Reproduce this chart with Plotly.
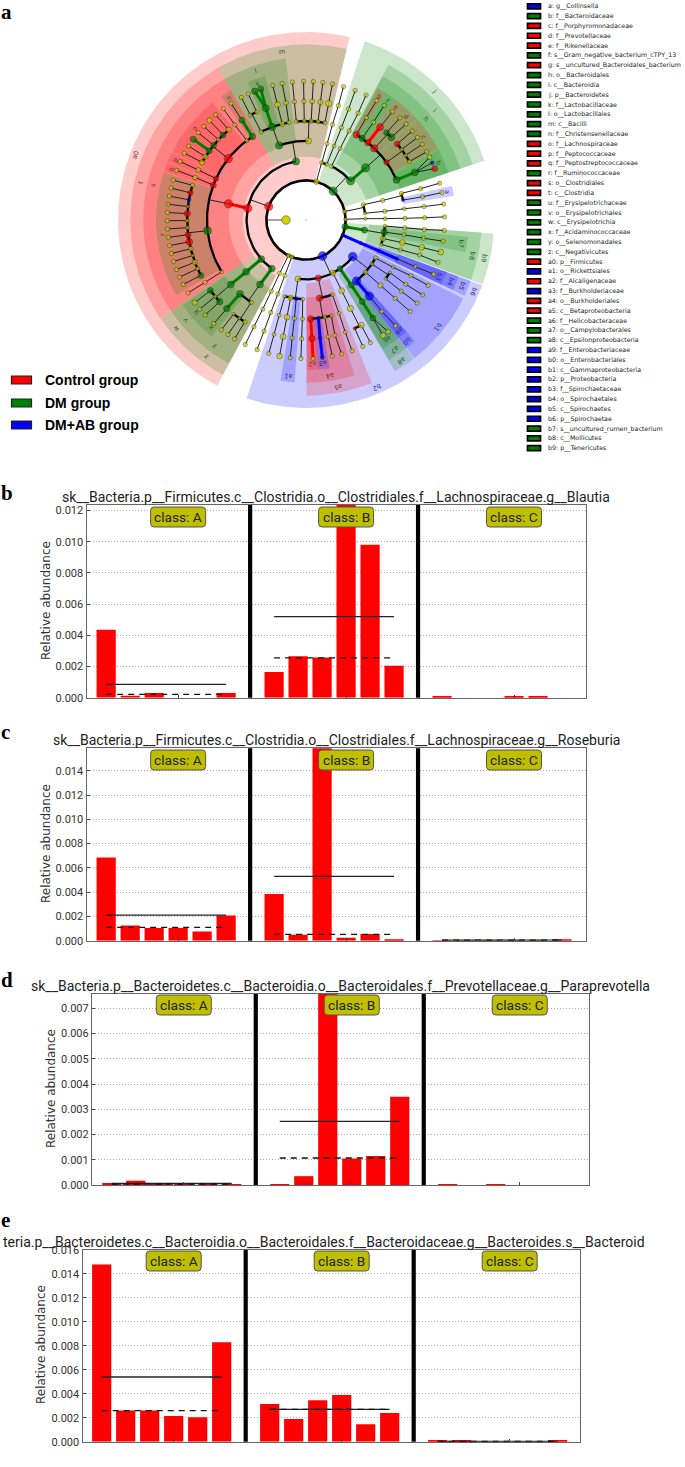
import numpy as np
import plotly.graph_objects as go

W, H = 685, 1467
CX, CY = 306.0, 220.0

# ---------- cladogram data ----------
level_radius = [0, 39.6, 59.4, 79.2, 99.0, 118.8, 138.6]
# id, parent, level, angle (deg ccw), colour (r,g,b,y), diameter
firmicutes_top = [
 ("a0",None,1,160,"r",7.5),("m",  "a0",2,99.7,"g",6.5),("l","m",3,109.8,"g",6.5),("o88","m",3,88.3,"y",5.5),
 ("l1","l",4,117,"y",3.5),("l1a","l1",5,118,"y",3.5),("l1b","l1",5,114.5,"y",3.5),("l1a6","l1a",6,117.8,"y",3.5),("l1b6","l1b",6,114.6,"y",3.5),
 ("k","l",4,110,"g",6.5),("k5","k",5,109.8,"g",6),("k6a","k5",6,111.7,"g",5.5),("k6b","k5",6,109,"g",5),
 ("l3","l",4,103.9,"y",4.5),("l35","l3",5,103.9,"y",5),("l36","l35",6,103.9,"y",3.5),
 ("l4","l",4,100,"y",3.5),("l45","l4",5,99.7,"y",4),("l46","l45",6,99.9,"y",3.5),
 ("f1","o88",4,95.6,"y",3.5),("f15","f1",5,95.6,"y",3.5),("f16","f15",6,95.6,"y",3.5),
 ("f2","o88",4,91,"y",3.5),("f25","f2",5,91,"y",3.5),("f26","f25",6,91,"y",3.5),
 ("f3","o88",4,87,"y",3.5),("f35","f3",5,87,"y",4),("f36","f35",6,87,"y",3.5),
 ("f4","o88",4,83,"y",3.5),("f45","f4",5,83,"y",4.5),("f46","f45",6,83,"y",3.5),
 ("f5","o88",4,79,"y",3.5),("f55","f5",5,79,"y",5.5),("f56","f55",6,79,"y",3.5),
]
clostridia_upper = [
 ("t","a0",2,168.6,"r",7.5),("s","t",3,168.2,"r",7.5),
 ("n","s",4,122.7,"g",5.5),("n5","n",5,122.7,"g",5),("n6","n5",6,122.7,"y",3.5),
 ("n2","s",4,126.7,"y",3.5),("n25","n2",5,126.8,"y",3.5),("n26","n25",6,126.6,"y",3.5),
 ("o","s",4,141.7,"r",7.5),
 ("o5a","o",5,130.6,"y",4.5),("o6a","o5a",6,130.7,"y",3.5),
 ("o5b","o",5,134.3,"g",5),("o6b","o5b",6,134.1,"y",4.5),
 ("o5c","o",5,137.5,"y",3.5),("o6c","o5c",6,137.5,"y",3.5),
 ("o5d","o",5,141,"g",5),("o6d","o5d",6,141,"y",3.5),
 ("o5e","o",5,144.4,"g",5),("o6e","o5e",6,144.4,"g",5.5),
 ("o5f","o",5,147.8,"y",4.5),("o6f","o5f",6,147.8,"y",3.5),
 ("o5g","o",5,151,"y",4.5),("o6g","o5g",6,151.2,"y",3.5),
 ("p","s",4,155.3,"r",4.5),("p5","p",5,155.1,"y",4),("p6","p5",6,155.1,"y",3.5),
 ("q","s",4,159.4,"r",5),("q5","q",5,159,"y",4),("q6","q5",6,159,"y",3.5),
]
clostridia_lower = [
 ("r","s",4,186.2,"g",7),
 ("r5a","r",5,163,"y",3.5),("r6a","r5a",6,163.3,"y",3.5),("r5b","r",5,166.8,"r",4.5),("r6b","r5b",6,166.7,"y",3.5),
 ("r5c","r",5,170.2,"b",3),("r6c","r5c",6,170.1,"y",3.5),("r5d","r",5,173.5,"y",2.5),("r6d","r5d",6,173.5,"y",3),
 ("r5e","r",5,176.9,"r",5.5),("r6e","r5e",6,176.9,"y",3.5),("r5f","r",5,180.3,"y",3),("r6f","r5f",6,180.3,"y",3.5),
 ("r5g","r",5,183.7,"y",3),("r6g","r5g",6,183.7,"y",3.5),("r5h","r",5,187.1,"r",5),("r6h","r5h",6,187.2,"y",3.5),
 ("r5i","r",5,190.6,"r",6),("r6i","r5i",6,190.6,"y",3.5),("r5j","r",5,194,"y",4),("r6j","r5j",6,194,"y",3.5),
 ("r5k","r",5,197.4,"y",2.5),("r6k","r5k",6,197.4,"y",3.5),("r5l","r",5,200.8,"y",4.5),("r6l","r5l",6,200.9,"y",3.5),
 ("r5m","r",5,204.2,"y",3.5),("r6m","r5m",6,204.3,"y",3.5),("r5n","r",5,207.8,"g",5),("r6n","r5n",6,207.7,"y",3.5),
 ("s5","s",4,211.6,"y",3),("s55","s5",5,211.7,"y",3.5),("s56","s55",6,211.7,"y",3.5),
]
negativicutes = [
 ("w","a0",2,221.1,"g",6),("v","w",3,220.9,"g",6),("u","v",4,220.6,"g",6),
 ("u5a","u",5,216.4,"g",5),("u5b","u",5,220.1,"y",3),("u5c","u",5,223.4,"g",5.5),
 ("u6a","u5a",6,216.6,"y",4.5),("u6b","u5b",6,220,"y",3.5),("u6c","u5c",6,223.3,"y",3.5),
 ("z","a0",2,234.9,"g",6),("y","z",3,234.5,"g",6),("x","y",4,228.2,"g",6),("y4","y",4,236.4,"y",3.5),
 ("x5","x",5,228.2,"g",5.5),("x6","x5",6,228.3,"y",3.5),
 ("y5a","y4",5,232.4,"y",2.5),("y5b","y4",5,235.8,"y",2.5),("y5c","y4",5,239,"y",3.5),
 ("y6a","y5a",6,232.4,"y",3.5),("y6b","y5b",6,235.7,"y",3.5),("y6c","y5c",6,239,"y",3.5),
]
lone_lineages = [
 ("P1",None,1,243.7,"y",3.5),("P1c","P1",2,243.7,"y",3.5),("P1o","P1c",3,244,"y",3.5),("P1f","P1o",4,244.1,"y",3.5),("P1g","P1f",5,244,"y",3.5),("P1s","P1g",6,244,"y",3.5),
 ("P2",None,1,249,"y",3.5),("P2c","P2",2,249.1,"y",3.5),("P2o","P2c",3,249.2,"y",3.5),("P2f","P2o",4,249.2,"y",3.5),("P2g","P2f",5,249.3,"y",3.5),("P2s","P2g",6,249.3,"y",3.5),
]
proteo_a = [
 ("b2",None,1,294.6,"b",8),
 ("c1","b2",2,262.2,"y",5),("a1u","c1",3,254.5,"y",2.5),("a1v","c1",3,258.8,"y",4.5),("a1","c1",3,262.9,"b",3),("a1w","c1",3,267.6,"y",3),
 ("u4","a1u",4,254.3,"y",3),("u5","u4",5,254.4,"y",3),("u6","u5",6,254.4,"y",3.5),
 ("v4","a1v",4,258.9,"y",5),("v5","v4",5,258.9,"y",5),("v6","v5",6,259,"y",5),
 ("w4","a1",4,263.3,"y",3.5),("w5","w4",5,263.3,"y",3.5),("w6","w5",6,263.5,"y",3.5),
 ("x4","a1w",4,267.9,"y",3.5),("x5b","x4",5,267.9,"y",3.5),("x6b","x5b",6,267.9,"y",3.5),
 ("a5","b2",2,282,"r",5.5),("a4","a5",3,279.8,"r",5.5),("o289","a5",3,289.4,"y",3),
 ("a2","a4",4,272.7,"r",5.5),("a25","a2",5,272.9,"r",5.5),("a26","a25",6,272.9,"y",3.5),
 ("a3","a4",4,277.2,"b",3),("a35","a3",5,276.8,"b",3),("a36","a35",6,276.8,"b",3),
 ("a47","a4",4,281,"y",3),("a475","a47",5,280.8,"y",3.5),("a476","a475",6,280.9,"y",3.5),
 ("a48","a4",4,284.8,"y",3),("a485","a48",5,284.1,"y",3.5),("a486","a485",6,284.9,"y",3.5),
 ("o2894","o289",4,289.5,"y",3),("o2895","o2894",5,289.3,"y",3),("o2896","o2895",6,289.4,"y",3.5),
]
proteo_b = [
 ("c297","b2",2,297,"y",5),("o297","c297",3,296.8,"y",5),("f297","o297",4,296.7,"y",5.5),
 ("g294","f297",5,294.2,"r",2.5),("g298","f297",5,297.7,"y",5),("s294","g294",6,294.2,"y",3.5),("s298","g298",6,297.7,"y",3.5),
 ("a8","b2",2,304.9,"g",5),("a7","a8",3,304.8,"g",5),("a6","a7",4,304.6,"g",5),("a65","a6",5,304.3,"g",5),("a6s","a65",6,303.7,"y",5),("a6t","a65",6,306.3,"y",4),
 ("b1","b2",2,321.9,"b",8),("b0","b1",3,309.6,"b",7.5),("a9","b0",4,309.8,"b",7.5),("a95","a9",5,309.7,"y",3.5),("a96","a95",6,310.2,"y",3.5),
 ("o319","b1",3,318.8,"y",4),("f319","o319",4,318.7,"y",4.5),("g319","f319",5,318.7,"y",3.5),("s319","g319",6,318.7,"y",3.5),
 ("o326","b1",3,326.3,"y",3),("f324","o326",4,323.6,"y",2.5),("f328","o326",4,327.9,"y",2.5),("g323","f324",5,323.2,"y",3.5),("g327","f328",5,327.2,"y",3.5),("s323","g323",6,323.2,"y",3.5),("s327","g327",6,327.3,"y",3.5),
 ("o331","b1",3,331.3,"y",3.5),("f331","o331",4,331.5,"y",2.5),("g332","f331",5,332,"y",3.5),("s332","g332",6,331.8,"y",3.5),
 ("b6",None,1,337.7,"b",2.5),("b5","b6",2,337.2,"b",2.5),("b4","b5",3,337.1,"b",2.5),("b3","b4",4,336.9,"b",2.5),("b35","b3",5,336.9,"y",3),("b36","b35",6,337,"y",3.5),
]
tenericutes = [
 ("b9",None,1,350.2,"g",5.5),("b8","b9",2,350.2,"g",5.5),
 ("o342","b8",3,342,"y",2.5),("o346","b8",3,346.4,"y",4.5),("b7o","b8",3,351.2,"g",5.5),("o356","b8",3,355.6,"y",3),
 ("f342","o342",4,342.5,"y",3),("f347","o346",4,346.8,"y",5),("f351","b7o",4,351.4,"y",3.5),("f355","o356",4,355.5,"y",3.5),
 ("g343","f342",5,342.9,"y",3.5),("g347","f347",5,346.7,"y",5),("g351","f351",5,351.2,"y",3.5),("g355","f355",5,355.4,"y",3.5),
 ("s342","g343",6,342.2,"y",3.5),("s347","g347",6,346.6,"y",5),("s351","g351",6,351.2,"y",3.5),("s355","g355",6,355.7,"y",3.5),
 ("P3",None,1,12.3,"y",3.5),("P3c","P3",2,14.9,"y",3.5),("P3d","P3",2,6.5,"y",2.5),
 ("P3o","P3c",3,14.3,"y",3.5),("P3p","P3d",3,6.3,"y",3.5),
 ("P3f","P3o",4,15.6,"y",3.5),("P3a","P3o",4,11.6,"b",2.5),("P3h","P3p",4,6.5,"y",3),
 ("P3g","P3f",5,15.3,"y",3.5),("P3b","P3a",5,11.3,"y",3.5),("P3i","P3h",5,6.5,"y",3.5),
 ("P3s","P3g",6,15.4,"y",3.5),("P3t","P3b",6,11.4,"y",3.5),("P3u","P3i",6,6.6,"y",3.5),
 ("P4",None,1,1,"y",3),("P4c","P4",2,1.3,"y",2.5),("P4o","P4c",3,1,"y",3),("P4f","P4o",4,1,"y",3.5),("P4g","P4f",5,1.1,"y",3.5),("P4s","P4g",6,1.3,"y",3.5),
]
bacteroidetes = [
 ("j",None,1,46.7,"g",7.5),("i","j",2,41.3,"g",7.5),("c65","j",2,64.6,"y",3.5),
 ("P5",None,1,74.8,"y",4.5),("c75","P5",2,74.5,"y",3.5),("c70","P5",2,69.5,"y",3),
 ("o75","c75",3,74.5,"y",3.5),("o70","c70",3,69.2,"y",3),("o65","c65",3,64.5,"y",3),
 ("f75","o75",4,74.5,"y",3.5),("f70","o70",4,69,"y",3.5),("f65","o65",4,64.2,"y",3.5),
 ("g75","f75",5,74.2,"y",3.5),("g70","f70",5,69,"y",3.5),("g65","f65",5,64,"y",3.5),
 ("s75","g75",6,74.3,"y",3.5),("s70","g70",6,69.2,"y",3.5),("s65","g65",6,64.3,"y",3.5),
 ("h","i",3,41.2,"g",7.5),
 ("h59","h",4,59.4,"r",6),("g5","h59",5,59.5,"y",3.5),("g6","g5",6,59.4,"y",3.5),
 ("h55","h",4,55.5,"g",5.5),("f5x","h55",5,55.4,"y",3.5),("f6x","f5x",6,55.7,"y",3.5),
 ("h51","h",4,51.3,"r",5.5),("e5","h51",5,51.4,"r",6),("e6","e5",6,51.4,"y",3.5),
 ("d","h",4,46.4,"r",6.5),("d5a","d",5,47.3,"g",5),("d5b","d",5,44.1,"g",6),("d6a","d5a",6,47.4,"y",3.5),("d6b","d5b",6,43.8,"y",3.5),
 ("c","h",4,35.6,"r",4.5),("c5a","c",5,39.8,"r",5),("c5b","c",5,36.4,"y",3),("c5c","c",5,33,"y",3),("c5d","c",5,29.5,"y",3.5),
 ("c6a","c5a",6,39.9,"y",3.5),("c6b","c5b",6,36.5,"y",3.5),("c6c","c5c",6,33.1,"y",3.5),("c6d","c5d",6,29.5,"y",3.5),
 ("b","h",4,23.9,"g",6),("b5x","b",5,23.6,"g",6),("b6a","b5x",6,26.9,"y",4),("b6b","b5x",6,24.4,"b",3),("b6c","b5x",6,21.8,"r",5),
]
thick_green = ["n5","k5","k6a","k6b","o6e","v","u","y","x5","h","b5x","a7","a6","a65","b8"]
thick_red = ["s","e5","a25","a26"]
thick_blue = ["a35","a36","a9","b5","b4","b3"]

# clade shading: key, ring, start angle, end angle, colour
sector_phylum = [("a0","p",76.6,241.8,"r"),("b2","p",251.6,334.3,"b"),("b6","p",334.3,339.7,"b"),("b9","p",340,355.9,"g"),("j","p",18.4,71.8,"g")]
sector_class = [("m","c",76.6,120,"g"),("t","c",120,214,"r"),("w","c",214,225.8,"g"),("z","c",225.8,241.8,"g"),
                ("a5","c",270.2,292,"r"),("a8","c",300.4,307.8,"g"),("b1","c",308.1,333.5,"b"),("b5","c",334.5,339.7,"b"),("b8","c",340,355.9,"g"),("i","c",18.4,62,"g")]
sector_order = [("l","o",97.2,120,"g"),("s","o",120,214,"r"),("v","o",214,225.8,"g"),("y","o",225.8,241.8,"g"),("a1","o",261,266,"b"),
                ("a4","o",270.2,287.4,"r"),("a7","o",300.7,307.8,"g"),("b0","o",307.8,312,"b"),("b4","o",334.5,339.7,"b"),("b7","o",348.6,354,"g"),("h","o",18.4,62,"g")]
sector_family = [("k","f",106,113,"g"),("n","f",120.2,124.4,"g"),("o","f",128.5,152.9,"r"),("p","f",153.4,157.2,"r"),("q","f",157.6,161,"r"),("r","f",161.4,210,"g"),
                 ("u","f",214.5,225.8,"g"),("x","f",225.8,231,"g"),("a2","f",270.5,274.5,"r"),("a3","f",274.5,279,"b"),("a6","f",300.7,307.8,"g"),("a9","f",307.8,312,"b"),
                 ("b3","f",334.5,339.7,"b"),("a","f",9.3,13.2,"b"),("b","f",18.4,28,"g"),("c","f",28.4,42.2,"r"),("d","f",42.4,49.4,"r"),("e","f",49.5,53.5,"r"),("f","f",53.6,57.6,"g"),("g","f",57.7,61.4,"r")]
ring_bounds = {"p":(39.3,188.0),"c":(63.3,175.7),"o":(77.3,162.8),"f":(98.7,150.0)}
label_radius = {"p":182.0,"c":169.5,"o":157.0,"f":144.0}

legend_keys = [chr(97+i) for i in range(26)]+[f"a{i}" for i in range(10)]+[f"b{i}" for i in range(10)]
legend_names = ["g__Collinsella","f__Bacteroidaceae","f__Porphyromonadaceae","f__Prevotellaceae","f__Rikenellaceae",
 "s__Gram_negative_bacterium_cTPY_13","s__uncultured_Bacteroidales_bacterium","o__Bacteroidales","c__Bacteroidia","p__Bacteroidetes",
 "f__Lactobacillaceae","o__Lactobacillales","c__Bacilli","f__Christensenellaceae","f__Lachnospiraceae","f__Peptococcaceae",
 "f__Peptostreptococcaceae","f__Ruminococcaceae","o__Clostridiales","c__Clostridia","f__Erysipelotrichaceae","o__Erysipelotrichales",
 "c__Erysipelotrichia","f__Acidaminococcaceae","o__Selenomonadales","c__Negativicutes","p__Firmicutes","o__Rickettsiales","f__Alcaligenaceae",
 "f__Burkholderiaceae","o__Burkholderiales","c__Betaproteobacteria","f__Helicobacteraceae","o__Campylobacterales","c__Epsilonproteobacteria",
 "f__Enterobacteriaceae","o__Enterobacteriales","c__Gammaproteobacteria","p__Proteobacteria","f__Spirochaetaceae","o__Spirochaetales",
 "c__Spirochaetes","p__Spirochaetae","s__uncultured_rumen_bacterium","c__Mollicutes","p__Tenericutes"]
legend_colours = list("bgrrrgrgggggggrrrgrrggggggrbrbrrgggbbbbbbbbggg")
group_names = ["Control group","DM group","DM+AB group"]
group_colours = ["r","g","b"]

# ---------- bar panels ----------
positions = [0,1,2,3,4,5, 7,8,9,10,11,12, 14,15,16,17,18,19]
class_names = ["class: A","class: B","class: C"]
class_ticks = [3,10,17]
separators = [6,13]
b_values = [.00435,.00013,.0003,0,0,.0003, .00165,.00265,.00258,.0124,.0098,.00205, .00006,0,0,.00006,.00006,0]
c_values = [.00685,.00125,.00105,.00105,.00075,.00207, .00385,.0005,.0159,.00025,.00055,.0001, .00003,.00003,.00003,.00003,.00003,.0001]
d_values = [.00006,.00017,.00003,.00006,.00003,.00003, .00003,.00035,.0076,.00105,.00115,.0035, .00003,0,.00003,0,0,0]
e_values = [.0148,.0026,.0026,.00215,.00205,.0083, .00315,.0019,.00345,.0039,.00145,.0024, .00006,.00015,0,0,0,.00006]
b_means, b_medians = [.00086,.0052,None], [.00021,.00255,None]
c_means, c_medians = [.0021,.0053,.00005], [.0011,.00052,.00004]
d_means, d_medians = [.00006,.00252,None], [.00004,.00107,None]
e_means, e_medians = [.0054,.0027,.00003], [.0026,.0027,.00002]
b_title = "sk__Bacteria.p__Firmicutes.c__Clostridia.o__Clostridiales.f__Lachnospiraceae.g__Blautia"
c_title = "sk__Bacteria.p__Firmicutes.c__Clostridia.o__Clostridiales.f__Lachnospiraceae.g__Roseburia"
d_title = "sk__Bacteria.p__Bacteroidetes.c__Bacteroidia.o__Bacteroidales.f__Prevotellaceae.g__Paraprevotella"
e_title = "teria.p__Bacteroidetes.c__Bacteroidia.o__Bacteroidales.f__Bacteroidaceae.g__Bacteroides.s__Bacteroid"
b_ticks = [0,.002,.004,.006,.008,.010,.012]
c_ticks = [0,.002,.004,.006,.008,.010,.012,.014]
d_ticks = [0,.001,.002,.003,.004,.005,.006,.007]
e_ticks = [0,.002,.004,.006,.008,.010,.012,.014,.016]

# panel geometry, pixels: left,right,top,bottom,ymax,xmin,xmax,title centre,title y,ylabel x,ylabel y
panels = [
 ("b",b_values,b_means,b_medians,b_title,b_ticks,86.5,586,505,697.7,.01235,-.82,20,336,497,46,601,(7,493),507,527),
 ("c",c_values,c_means,c_medians,c_title,c_ticks,86.5,586,748.3,940.7,.01585,-.82,20,336.5,740,46,844,(5,732),750,770),
 ("d",d_values,d_means,d_medians,d_title,d_ticks,92,588.6,994,1185,.00757,-.825,19.87,340,986,51,1089,(7,980),995,1015),
 ("e",e_values,e_means,e_medians,e_title,e_ticks,82.5,580,1250,1441.7,.016,-.8,19.93,323.5,1241.5,41,1345,(5,1220),1251,1271),
]

COL = {"r":"#ff0000","g":"#008000","b":"#0000ff","y":"#d2d200"}
RGBA = {"r":"rgba(255,0,0,0.2)","g":"rgba(0,128,0,0.2)","b":"rgba(0,0,255,0.2)"}
TXT = {"r":"#7a2a2a","g":"#1d5c1d","b":"#2a2a80"}
NARROW = "Liberation Sans Narrow, Roboto, sans-serif"

fig = go.Figure()
px = lambda v: v/W
py = lambda v: 1-v/H
annotations, shapes = [], []

def note(xv, yv, text, size, colour, family="DejaVu Sans", angle=0, xanchor="center", xref="paper", yref="paper"):
    annotations.append(dict(x=xv, y=yv, xref=xref, yref=yref, text=text, showarrow=False, textangle=angle,
                            xanchor=xanchor, yanchor="middle", font=dict(family=family, size=size, color=colour)))

def cart(r, deg):
    t = np.radians(deg)
    return CX + r*np.cos(t), CY - r*np.sin(t)

def add_clad(**kw):
    fig.add_trace(go.Scatter(xaxis="x5", yaxis="y5", showlegend=False, hoverinfo="skip", **kw))

# sectors
for group in (sector_phylum, sector_class, sector_order, sector_family):
    for key, ring, a0, a1, c in group:
        r0, r1 = ring_bounds[ring]
        th = np.linspace(a0, a1, max(4, int((a1-a0)*1.5)))
        xo, yo = cart(r1, th); xi, yi = cart(r0, th[::-1])
        add_clad(x=np.r_[xo, xi, xo[0]], y=np.r_[yo, yi, yo[0]], mode="lines", line=dict(width=0), fill="toself", fillcolor=RGBA[c])
        mid = (a0+a1)/2
        lx, ly = cart(label_radius[ring], mid)
        note(lx, ly, key, 6.5, TXT[c], angle=90-mid, xref="x5", yref="y5")

# tree
all_nodes = firmicutes_top+clostridia_upper+clostridia_lower+negativicutes+lone_lineages+proteo_a+proteo_b+tenericutes+bacteroidetes
node = {n[0]: n for n in all_nodes}
kids = {}
for n in all_nodes:
    if n[1]: kids.setdefault(n[1], []).append(n)

thin_x, thin_y, arc_x, arc_y = [], [], [], []
heavy = {"g":([],[]),"r":([],[]),"b":([],[])}
for pid, ch in kids.items():
    p = node[pid]; rp = level_radius[p[2]]
    straight = len(ch) == 1 or ch[0][2] == 6
    if straight:
        for k in ch:
            x0, y0 = cart(rp, p[3]); x1, y1 = cart(level_radius[k[2]], k[3])
            tgt = "g" if k[0] in thick_green else "r" if k[0] in thick_red else "b" if k[0] in thick_blue else None
            if tgt:
                heavy[tgt][0].extend([x0,x1,None]); heavy[tgt][1].extend([y0,y1,None])
            else:
                thin_x.extend([x0,x1,None]); thin_y.extend([y0,y1,None])
    else:
        rc = level_radius[ch[0][2]]
        x0, y0 = cart(rp, p[3]); x1, y1 = cart(rc, p[3])
        thin_x.extend([x0,x1,None]); thin_y.extend([y0,y1,None])
        angs = [k[3] for k in ch]+[p[3]]
        th = np.linspace(min(angs), max(angs), 40)
        ax, ay = cart(rc, th)
        arc_x.extend(list(ax)+[None]); arc_y.extend(list(ay)+[None])

add_clad(x=thin_x, y=thin_y, mode="lines", line=dict(color="#222222", width=1))
add_clad(x=arc_x, y=arc_y, mode="lines", line=dict(color="black", width=2.3))
for c, (hx, hy) in heavy.items():
    add_clad(x=hx, y=hy, mode="lines", line=dict(color=COL[c], width=3))
th = np.linspace(0, 360, 200)
ring_x, ring_y = cart(level_radius[1], th)
add_clad(x=ring_x, y=ring_y, mode="lines", line=dict(color="black", width=2.6))
rx0, ry0 = cart(20, 180); rx1, ry1 = cart(38, 180)
add_clad(x=[rx0, rx1], y=[ry0, ry1], mode="lines", line=dict(color="#888888", width=1.5))
add_clad(x=[rx0], y=[ry0], mode="markers", marker=dict(size=8.5, color=COL["y"], line=dict(color="#333", width=0.5)))
add_clad(x=[CX], y=[CY], mode="markers", marker=dict(size=1.5, color=COL["y"]))
nx, ny = cart(np.array([level_radius[n[2]] for n in all_nodes]), np.array([n[3] for n in all_nodes]))
add_clad(x=nx, y=ny, mode="markers", marker=dict(size=[n[5]+0.8 for n in all_nodes], color=[COL[n[4]] for n in all_nodes], line=dict(color="black", width=0.5)))

# bar panels
layout_axes = {}
for idx, (tag, vals, means, meds, title, ticks, L, R, T, B, ymax, xmin, xmax, tcx, ty, ylx, yly, tagpos, boxT, boxB) in enumerate(panels):
    n = idx+1
    xa, ya = ("x" if n == 1 else f"x{n}"), ("y" if n == 1 else f"y{n}")
    fig.add_trace(go.Bar(x=positions, y=vals, width=0.8, marker=dict(color="#ff0000", line=dict(width=0)),
                         xaxis=xa, yaxis=ya, showlegend=False, hoverinfo="skip"))
    for g in range(3):
        x0 = positions[g*6]; x1 = positions[g*6+5]
        if means[g] is not None:
            fig.add_trace(go.Scatter(x=[x0,x1], y=[means[g]]*2, mode="lines", line=dict(color="#222", width=1.3), xaxis=xa, yaxis=ya, showlegend=False, hoverinfo="skip"))
            fig.add_trace(go.Scatter(x=[x0,x1], y=[meds[g]]*2, mode="lines", line=dict(color="#111", width=1.3, dash="6px,5px"), xaxis=xa, yaxis=ya, showlegend=False, hoverinfo="skip"))
    common_line = dict(showline=True, linecolor="#666666", linewidth=1.2, mirror=True, ticks="inside", ticklen=3, tickcolor="#444")
    layout_axes["xaxis" if n == 1 else f"xaxis{n}"] = dict(domain=[px(L), px(R)], range=[xmin, xmax], tickmode="array", tickvals=class_ticks,
                     showticklabels=False, showgrid=False, zeroline=False, anchor=ya, **common_line)
    layout_axes["yaxis" if n == 1 else f"yaxis{n}"] = dict(domain=[py(B), py(T)], range=[0, ymax], tickmode="array", tickvals=ticks, tickformat=".3f",
                     showgrid=True, gridcolor="#aaaaaa", griddash="1px,2px", gridwidth=1, zeroline=False, anchor=xa,
                     tickfont=dict(family=NARROW, size=11, color="#333"), **common_line)
    for s in separators:
        shapes.append(dict(type="line", xref=xa, yref=f"{ya} domain", x0=s, x1=s, y0=0, y1=1, line=dict(color="black", width=4.2)))
    pitch = (R-L)/(xmax-xmin)
    for cname, ct in zip(class_names, class_ticks):
        cxp = L+(ct-xmin)*pitch
        bl, br = cxp-27.5, cxp+27.5; rr = 3.5
        path = (f"M {px(bl+rr)} {py(boxT)} L {px(br-rr)} {py(boxT)} Q {px(br)} {py(boxT)} {px(br)} {py(boxT+rr)} "
                f"L {px(br)} {py(boxB-rr)} Q {px(br)} {py(boxB)} {px(br-rr)} {py(boxB)} L {px(bl+rr)} {py(boxB)} "
                f"Q {px(bl)} {py(boxB)} {px(bl)} {py(boxB-rr)} L {px(bl)} {py(boxT+rr)} Q {px(bl)} {py(boxT)} {px(bl+rr)} {py(boxT)} Z")
        shapes.append(dict(type="path", xref="paper", yref="paper", path=path, fillcolor="#bfbf00", line=dict(color="#555", width=1)))
        note(px(cxp), py((boxT+boxB)/2), cname, 13.7, "#222", NARROW)
    note(px(tcx), py(ty), title, 14, "#222", NARROW)
    note(px(ylx), py(yly), "Relative abundance", 12, "#333", angle=-90)
    note(px(tagpos[0]), py(tagpos[1]), f"<b>{tag}</b>", 21, "black", "Liberation Serif")

note(px(6), py(12), "<b>a</b>", 21, "black", "Liberation Serif")

# right legend
for i, (k, nm, c) in enumerate(zip(legend_keys, legend_names, legend_colours)):
    yc = 6.3+9.82*i
    shapes.append(dict(type="rect", xref="paper", yref="paper", x0=px(527.5), x1=px(540.5), y0=py(yc-2.5), y1=py(yc+2.5),
                       fillcolor=COL[c], line=dict(color="black", width=1.7)))
    note(px(545.5), py(yc), f"{k}: {nm}", 6.3, "#222", xanchor="left")
# left legend
for yc, nm, c in zip([380, 403, 425], group_names, group_colours):
    shapes.append(dict(type="rect", xref="paper", yref="paper", x0=px(11.5), x1=px(31.5), y0=py(yc-4), y1=py(yc+4),
                       fillcolor=COL[c], line=dict(color="#222", width=1.2)))
    note(px(42.5), py(yc), f"<b>{nm}</b>", 14, "black", "Liberation Sans", xanchor="left")

layout_axes["xaxis5"] = dict(domain=[0,1], range=[0,W], visible=False, anchor="y5")
layout_axes["yaxis5"] = dict(domain=[0,1], range=[H,0], visible=False, anchor="x5")
fig.update_layout(width=W, height=H, margin=dict(l=0,r=0,t=0,b=0,autoexpand=False), paper_bgcolor="white", plot_bgcolor="rgba(0,0,0,0)",
                  showlegend=False, bargap=0.2, annotations=annotations, shapes=shapes, **layout_axes)
fig.write_html("out.html", config={"displayModeBar":False}, post_script="document.body.style.margin='0';document.body.style.overflow='hidden';")
